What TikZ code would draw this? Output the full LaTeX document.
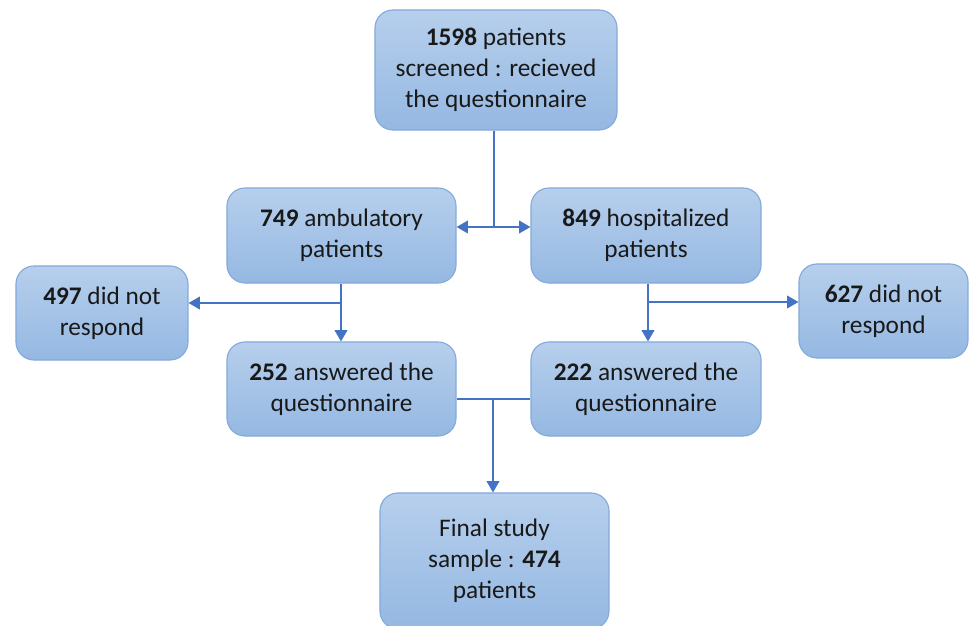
\documentclass[tikz,border=0pt]{standalone}
\usepackage{fontspec}
\setmainfont{Carlito}
\usepackage{tikz}
\usetikzlibrary{arrows.meta}

\definecolor{boxtop}{HTML}{B6CFEC}
\definecolor{boxbot}{HTML}{95B8E2}
\definecolor{boxline}{HTML}{84AADB}
\definecolor{linkblue}{HTML}{4472C4}

\begin{document}
\begin{tikzpicture}[x=0.025cm,y=0.025cm,
  stagebox/.style={draw=boxline,line width=0.8pt,rounded corners=0.45cm,
    top color=boxtop,bottom color=boxbot,align=center,text=black!90,
    font=\fontsize{18}{22}\selectfont,inner sep=0pt,
    execute at begin node={\rule{0pt}{19pt}}},
  link/.style={draw=linkblue,line width=1.1pt},
  flow/.style={link,-{Triangle[length=8pt,width=9pt]}}]
\useasboundingbox (0,0) rectangle (969,626);

% boxes
\node[stagebox,minimum width=6.05cm,minimum height=3cm] (screen) at (496,556)
  {\textbf{1598} patients\\screened : recieved\\the questionnaire};
\node[stagebox,minimum width=5.725cm,minimum height=2.375cm] (amb) at (341.5,390.5)
  {\textbf{749} ambulatory\\patients};
\node[stagebox,minimum width=5.75cm,minimum height=2.375cm] (hosp) at (646,390.5)
  {\textbf{849} hospitalized\\patients};
\node[stagebox,minimum width=4.3cm,minimum height=2.35cm] (ambno) at (102,313)
  {\textbf{497} did not\\respond};
\node[stagebox,minimum width=4.225cm,minimum height=2.35cm] (hospno) at (883.5,315)
  {\textbf{627} did not\\respond};
\node[stagebox,minimum width=5.725cm,minimum height=2.35cm] (ambyes) at (341.5,237)
  {\textbf{252} answered the\\questionnaire};
\node[stagebox,minimum width=5.75cm,minimum height=2.35cm] (hospyes) at (646,237)
  {\textbf{222} answered the\\questionnaire};
\node[stagebox,minimum width=5.725cm,minimum height=3.4cm] (final) at (494.5,65)
  {Final study\\sample : \textbf{474}\\patients};

% connectors
\coordinate (split) at (494,399);
\draw[link] (screen.south -| split) -- (split);
\draw[flow] (split) -- (split -| amb.east);
\draw[flow] (split) -- (split -| hosp.west);

\coordinate (ambfork) at (341,323);
\draw[flow] (amb.south -| ambfork) -- (ambyes.north -| ambfork);
\draw[flow] (ambfork) -- (ambfork -| ambno.east);

\coordinate (hospfork) at (648,324);
\draw[flow] (hosp.south -| hospfork) -- (hospyes.north -| hospfork);
\draw[flow] (hospfork) -- (hospfork -| hospno.west);

\coordinate (merge) at (493,227);
\draw[link] (merge -| ambyes.east) -- (merge -| hospyes.west);
\draw[flow] (merge) -- (final.north -| merge);
\end{tikzpicture}
\end{document}
